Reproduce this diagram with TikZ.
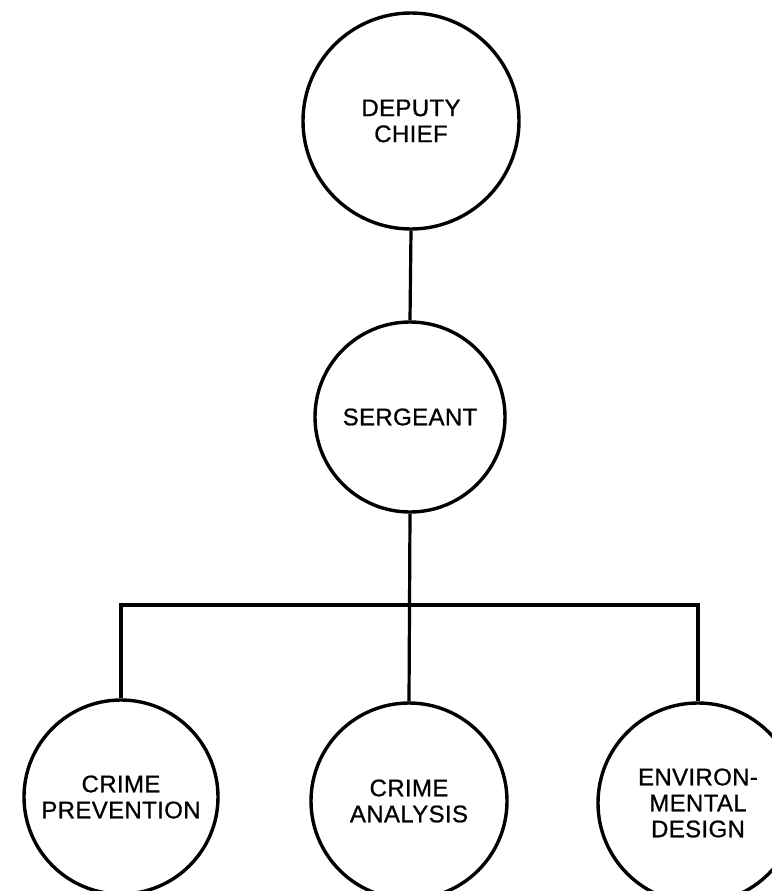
\documentclass[tikz,border=0pt]{standalone}
\usepackage{fontspec}
\setmainfont{Liberation Sans}[LetterSpace=1.5, FakeBold=0.8]
\begin{document}
\begin{tikzpicture}[x=1pt,y=-1pt,
  unit/.style={circle, draw, line width=3.4pt, inner sep=0pt, align=center,
    font=\fontsize{24}{26}\selectfont},
  link/.style={line width=3.2pt}]
  \useasboundingbox (0,0) rectangle (771,891);
  % command chain
  \node[unit, minimum size=216pt] (chief) at (411,121) {DEPUTY\\CHIEF};
  \node[unit, minimum size=190pt] (sgt) at (410,417) {SERGEANT};
  % units under the sergeant
  \node[unit, minimum size=194pt] (prev) at (121,797) {CRIME\\PREVENTION};
  \node[unit, minimum size=196pt] (anal) at (409,801) {CRIME\\ANALYSIS};
  \node[unit, minimum size=200pt] (env) at (698,803) {ENVIRON-\\MENTAL\\DESIGN};
  \coordinate (bar) at (409,605);
  % connectors
  \draw[link] (chief.south) -- (sgt.north);
  \draw[link] (sgt.south) -- (anal.north);
  \draw[link] (prev.north) |- (bar) -| (env.north);
\end{tikzpicture}
\end{document}
